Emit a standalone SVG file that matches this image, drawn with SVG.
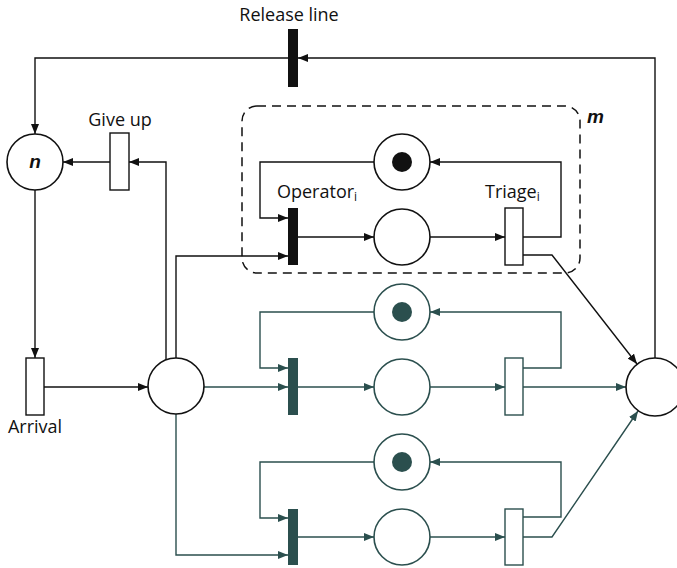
<svg xmlns="http://www.w3.org/2000/svg" width="677" height="568" viewBox="0 0 677 568">
<style>
.lbl{font-family:"Open Sans","Liberation Sans",sans-serif;font-size:18px;fill:#111}
.var{font-family:"Liberation Sans",sans-serif;font-size:19px;font-weight:bold;font-style:italic;fill:#111}
.pl{fill:#fff;stroke:#111;stroke-width:1.6}
.plt{fill:#fff;stroke:#2b4f4e;stroke-width:1.6}
.tr{fill:#fff;stroke:#111;stroke-width:1.4}
.trt{fill:#fff;stroke:#2b4f4e;stroke-width:1.4}
.bar{fill:#111}
.bart{fill:#2b4f4e}
.c{fill:none;stroke:#111;stroke-width:1.4;marker-end:url(#ab)}
.ct{fill:none;stroke:#2b4f4e;stroke-width:1.4;marker-end:url(#at)}
</style>
<defs>
<marker id="ab" markerUnits="userSpaceOnUse" markerWidth="10" markerHeight="8" refX="10" refY="4" orient="auto"><path d="M0,0 L10,4 L0,8 Z" fill="#111"/></marker>
<marker id="at" markerUnits="userSpaceOnUse" markerWidth="10" markerHeight="8" refX="10" refY="4" orient="auto"><path d="M0,0 L10,4 L0,8 Z" fill="#2b4f4e"/></marker>
</defs>
<rect width="677" height="568" fill="#fff"/>
<g id="connectors">
<path class="c" d="M655,358 V58 H298"/>
<path class="c" d="M288,58 H35 V134"/>
<path class="c" d="M110,162 H63"/>
<path class="c" d="M166,360 V162 H129"/>
<path class="c" d="M35,190 V358"/>
<path class="c" d="M44,387 H148"/>
<path class="c" d="M176,358 V256 H288"/>
<path class="c" d="M374,162 H260 V218 H288"/>
<path class="c" d="M298,237 H374"/>
<path class="c" d="M430,237 H505"/>
<path class="c" d="M523,237 H561 V162 H430"/>
<path class="c" d="M523,255 H552 L637,364"/>
<path class="ct" d="M204,387 H288"/>
<path class="ct" d="M374,312 H260 V368 H288"/>
<path class="ct" d="M298,387 H374"/>
<path class="ct" d="M430,387 H505"/>
<path class="ct" d="M523,368 H561 V312 H430"/>
<path class="ct" d="M523,387 H626"/>
<path class="ct" d="M176,414 V555 H288"/>
<path class="ct" d="M374,462 H260 V518 H288"/>
<path class="ct" d="M298,537 H374"/>
<path class="ct" d="M430,537 H505"/>
<path class="ct" d="M523,517 H561 V462 H430"/>
<path class="ct" d="M523,537 H552 L638,411"/>
</g>
<g id="group-m">
<rect x="242" y="106" width="338" height="167" rx="15" fill="none" stroke="#111" stroke-width="1.5" stroke-dasharray="9 6"/>
<text class="var" x="587" y="123">m</text>
</g>
<g id="release-line">
<rect class="bar" x="288" y="29" width="10" height="58"/>
<text class="lbl" x="289" y="21" text-anchor="middle">Release line</text>
</g>
<g id="place-n">
<circle class="pl" cx="35" cy="162" r="28"/>
<text class="var" x="35" y="168" text-anchor="middle">n</text>
</g>
<g id="give-up">
<rect class="tr" x="110" y="133" width="19" height="57"/>
<text class="lbl" x="120" y="126" text-anchor="middle">Give up</text>
</g>
<g id="arrival">
<rect class="tr" x="26" y="358" width="18" height="57"/>
<text class="lbl" x="35" y="433" text-anchor="middle">Arrival</text>
</g>
<g id="queue">
<circle class="pl" cx="176" cy="386" r="28"/>
</g>
<g id="done">
<circle class="pl" cx="655" cy="387" r="29"/>
</g>
<g id="operator-1">
<rect class="bar" x="288" y="208" width="10" height="57"/>
<text class="lbl" x="277" y="198">Operator<tspan font-size="12" dy="3">i</tspan></text>
</g>
<g id="free-1">
<circle class="pl" cx="402" cy="162" r="28"/>
<circle cx="402" cy="162" r="10" fill="#111"/>
</g>
<g id="busy-1">
<circle class="pl" cx="402" cy="237" r="28"/>
</g>
<g id="triage-1">
<rect class="tr" x="505" y="208" width="18" height="57"/>
<text class="lbl" x="485" y="198">Triage<tspan font-size="12" dy="3">i</tspan></text>
</g>
<g id="operator-2">
<rect class="bart" x="288" y="358" width="10" height="57"/>
</g>
<g id="free-2">
<circle class="plt" cx="402" cy="312" r="28"/>
<circle cx="402" cy="312" r="10" fill="#2b4f4e"/>
</g>
<g id="busy-2">
<circle class="plt" cx="402" cy="387" r="28"/>
</g>
<g id="triage-2">
<rect class="trt" x="505" y="358" width="18" height="57"/>
</g>
<g id="operator-3">
<rect class="bart" x="288" y="509" width="10" height="56"/>
</g>
<g id="free-3">
<circle class="plt" cx="402" cy="462" r="28"/>
<circle cx="402" cy="462" r="10" fill="#2b4f4e"/>
</g>
<g id="busy-3">
<circle class="plt" cx="402" cy="537" r="28"/>
</g>
<g id="triage-3">
<rect class="trt" x="505" y="509" width="18" height="56"/>
</g>
</svg>
